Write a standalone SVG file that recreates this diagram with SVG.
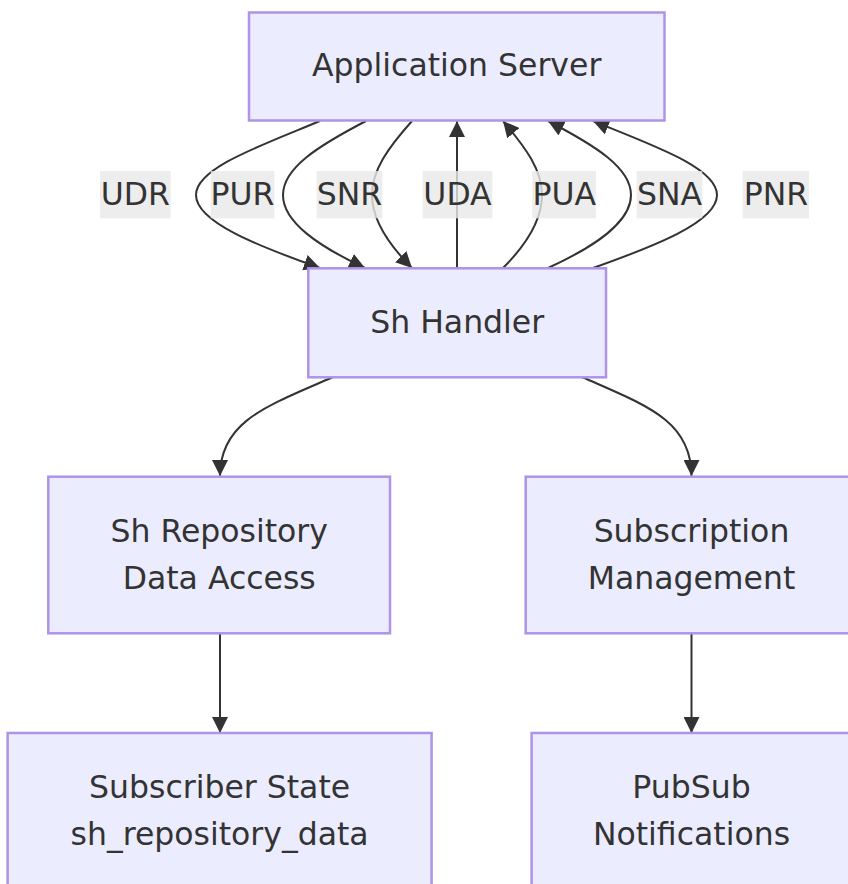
<svg xmlns="http://www.w3.org/2000/svg" width="848" height="884" viewBox="0 0 848 884">
<style>
.node rect{fill:#ECECFF;stroke:#AE93E8;stroke-width:2.5}
.node text,.lbl text{font-family:"DejaVu Sans",Verdana,sans-serif;font-size:31.5px;fill:#333;text-anchor:middle}
.edge{fill:none;stroke:#333;stroke-width:2}
.lbl rect{fill:rgba(232,232,232,0.8);stroke:none}
</style>
<defs>
<marker id="arr" viewBox="0 0 10 10" refX="10" refY="5" markerUnits="userSpaceOnUse" markerWidth="16" markerHeight="16" orient="auto">
<path d="M0,0 L10,5 L0,10 z" fill="#333"/>
</marker>
</defs>
<g id="connectors">
<path class="edge" marker-end="url(#arr)" d="M320,121 C260,146 196,168 196,195 C196,222 258,246 320,268"/>
<path class="edge" marker-end="url(#arr)" d="M366,121 C318,146 283,168 283,195 C283,222 318,246 365,268"/>
<path class="edge" marker-end="url(#arr)" d="M412,121 C388,148 372,170 372,195 C372,220 390,246 412,268"/>
<path class="edge" marker-end="url(#arr)" d="M457,268 L457,121"/>
<path class="edge" marker-end="url(#arr)" d="M503,268 C525,246 542,220 542,195 C542,170 526,148 503,121"/>
<path class="edge" marker-end="url(#arr)" d="M548,268 C596,246 631,222 631,195 C631,168 596,146 548,121"/>
<path class="edge" marker-end="url(#arr)" d="M593,268 C655,246 717,222 717,195 C717,168 655,146 593,121"/>
<path class="edge" marker-end="url(#arr)" d="M333,377 C270,405 220,420 220,476"/>
<path class="edge" marker-end="url(#arr)" d="M582,377 C645,405 691.5,420 691.5,476"/>
<path class="edge" marker-end="url(#arr)" d="M220,633 L220,733"/>
<path class="edge" marker-end="url(#arr)" d="M691.5,633 L691.5,733"/>
</g>
<g id="labels">
<g class="lbl"><rect x="100" y="171" width="70.7" height="47.3"/><text x="135.3" y="204.5">UDR</text></g>
<g class="lbl"><rect x="210.7" y="171" width="63.6" height="47.3"/><text x="242.5" y="204.5">PUR</text></g>
<g class="lbl"><rect x="316.7" y="171" width="65.6" height="47.3"/><text x="349.5" y="204.5">SNR</text></g>
<g class="lbl"><rect x="422.7" y="171" width="69.6" height="47.3"/><text x="457.5" y="204.5">UDA</text></g>
<g class="lbl"><rect x="532.3" y="171" width="63.7" height="47.3"/><text x="564.2" y="204.5">PUA</text></g>
<g class="lbl"><rect x="636.7" y="171" width="65.6" height="47.3"/><text x="669.5" y="204.5">SNA</text></g>
<g class="lbl"><rect x="742.7" y="171" width="66.3" height="47.3"/><text x="775.9" y="204.5">PNR</text></g>
</g>
<g id="app-server" class="node"><rect x="249" y="12.5" width="415.5" height="108"/><text x="456.7" y="76.3">Application Server</text></g>
<g id="sh-handler" class="node"><rect x="308.3" y="268.3" width="297.7" height="109"/><text x="457.2" y="332.5">Sh Handler</text></g>
<g id="sh-repo" class="node"><rect x="48.3" y="476.7" width="341.7" height="156.6"/><text x="219.2" y="541.5">Sh Repository</text><text x="219.2" y="589">Data Access</text></g>
<g id="sub-mgmt" class="node"><rect x="525.7" y="476.7" width="331.6" height="156.6"/><text x="691.5" y="541.5">Subscription</text><text x="691.5" y="589">Management</text></g>
<g id="sub-state" class="node"><rect x="7.6" y="733" width="424" height="156.6"/><text x="219.6" y="797.5">Subscriber State</text><text x="219.6" y="845">sh_repository_data</text></g>
<g id="pubsub" class="node"><rect x="531.6" y="733" width="320" height="156.6"/><text x="691.5" y="797.5">PubSub</text><text x="691.5" y="845">Notifications</text></g>
</svg>
